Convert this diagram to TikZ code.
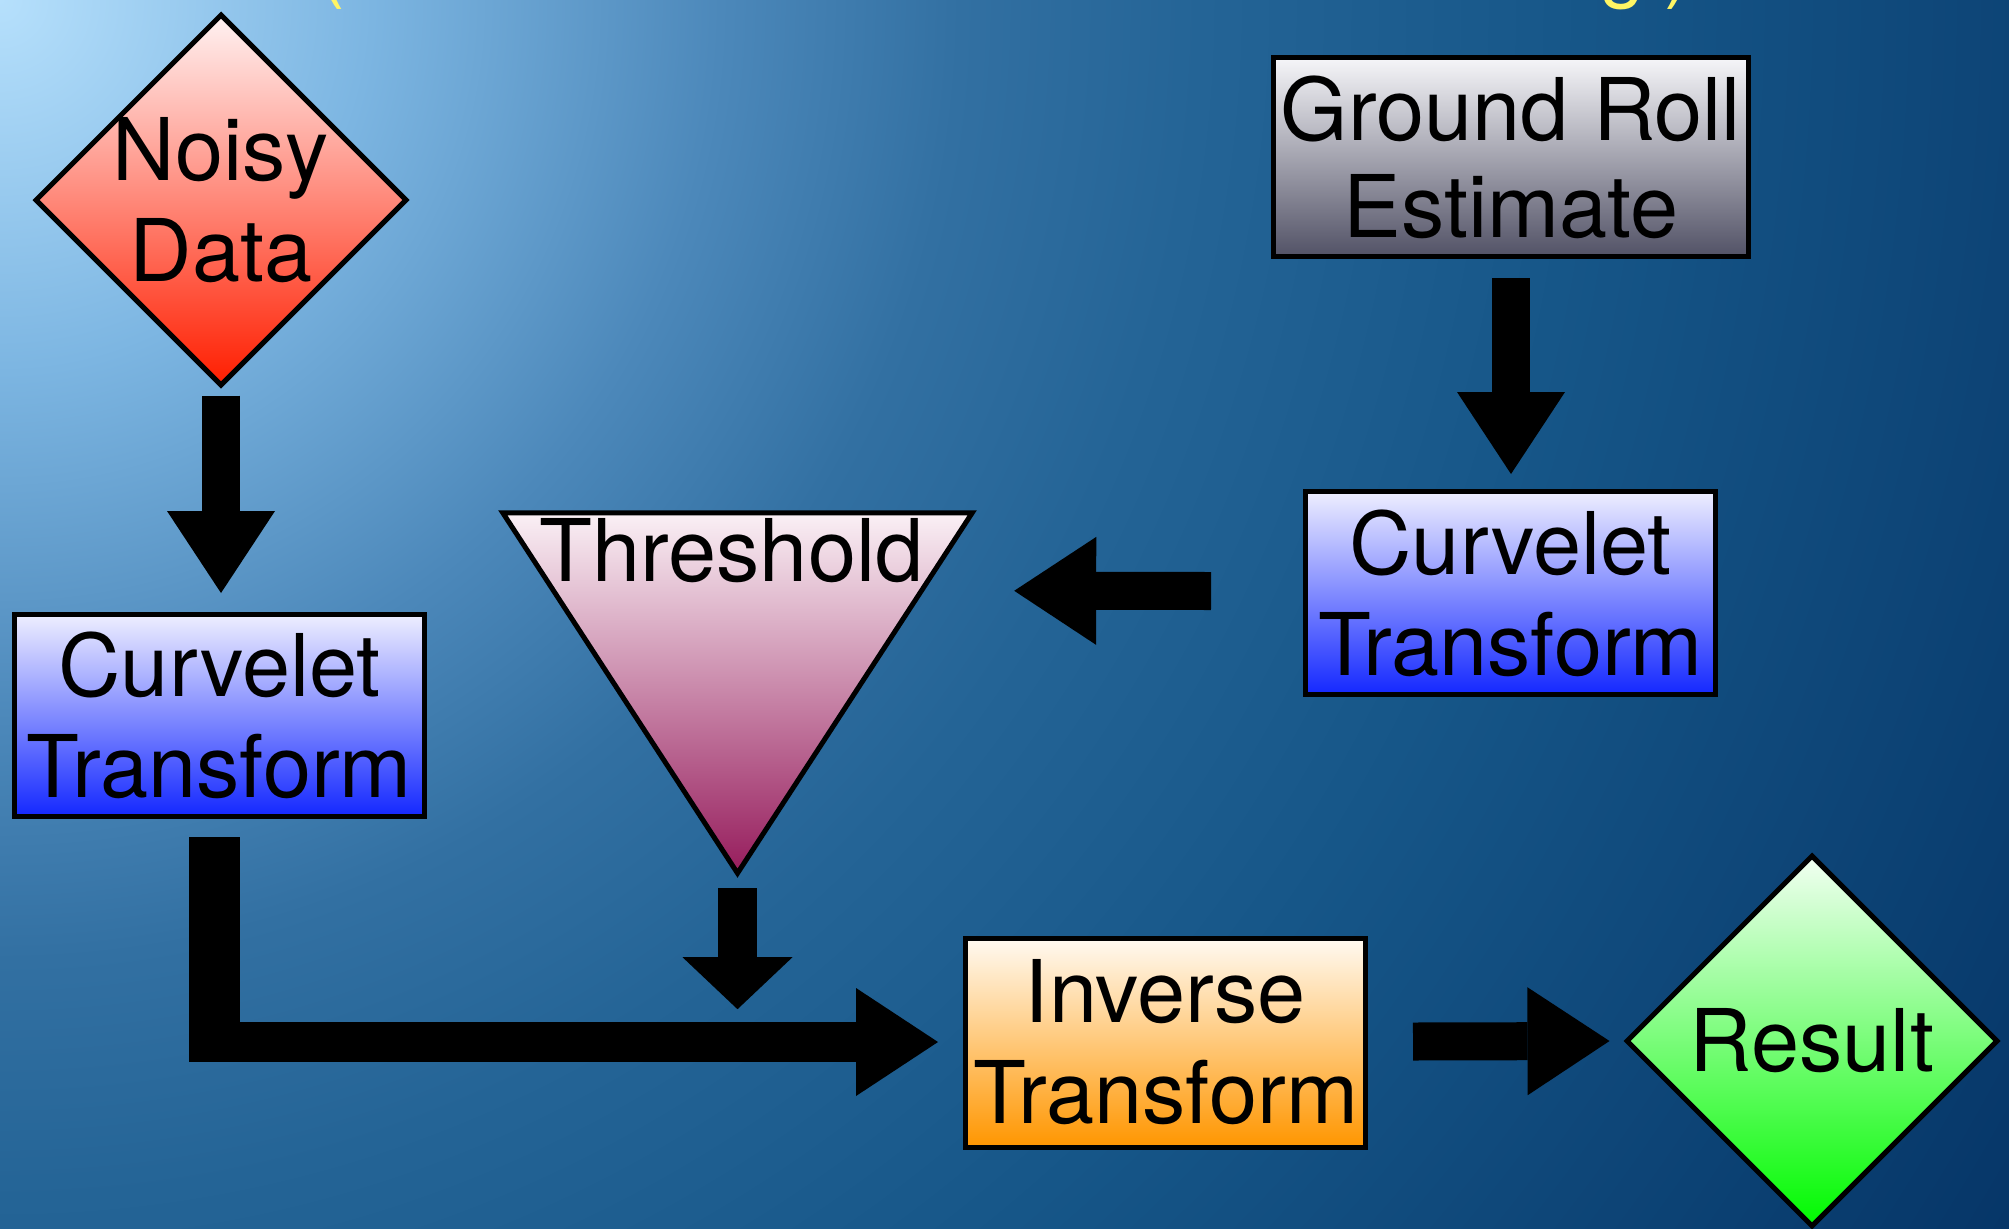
\documentclass[tikz,border=0pt]{standalone}
\usepackage{fontspec}
\setmainfont{TeX Gyre Heros}
\usetikzlibrary{shapes.geometric,arrows.meta,calc}

% backdrop colours
\definecolor{bgA}{RGB}{182,224,252}
\definecolor{bgB}{RGB}{125,182,226}
\definecolor{bgC}{RGB}{76,136,186}
\definecolor{bgD}{RGB}{50,112,162}
\definecolor{bgE}{RGB}{36,100,150}
\definecolor{bgF}{RGB}{22,86,136}
\definecolor{bgG}{RGB}{6,54,104}
% node fills
\definecolor{noisyTop}{RGB}{255,242,242}
\definecolor{noisyBot}{RGB}{255,30,0}
\definecolor{ctTop}{RGB}{238,238,255}
\definecolor{ctBot}{RGB}{20,40,255}
\definecolor{grTop}{RGB}{246,246,249}
\definecolor{grBot}{RGB}{82,82,102}
\definecolor{thrTop}{RGB}{250,240,245}
\definecolor{thrBot}{RGB}{150,28,92}
\definecolor{invTop}{RGB}{255,250,242}
\definecolor{invBot}{RGB}{255,150,0}
\definecolor{resTop}{RGB}{242,255,242}
\definecolor{resBot}{RGB}{0,250,0}
\definecolor{titleYellow}{RGB}{255,245,100}

% radial glow from the top-left corner (25bp spans the circle's radius)
\pgfdeclareradialshading{backdrop}{\pgfpoint{0bp}{0bp}}{%
  color(0bp)=(bgA); color(3.8bp)=(bgB); color(7.5bp)=(bgC);
  color(10bp)=(bgD); color(12.5bp)=(bgE); color(16.5bp)=(bgF);
  color(24.5bp)=(bgG); color(50bp)=(bgG)}

\tikzset{
  label font/.style={font=\fontsize{86.5}{101}\selectfont},
  boxnode/.style={rectangle, draw=black, line width=5pt, inner sep=0pt,
    align=center, label font},
  diamondnode/.style={diamond, draw=black, line width=5pt, inner sep=0pt,
    minimum width=372pt, minimum height=372pt},
  lbl/.style={align=center, inner sep=0pt, label font},
  blockarrow/.style={draw=black, line width=38pt,
    -{Triangle[length=82pt,width=108pt,line width=0pt]}},
  flatarrow/.style={draw=black, line width=39pt,
    -{Triangle[length=52pt,width=110pt,line width=0pt]}},
  titletext/.style={text=titleYellow, inner sep=0pt,
    font=\fontsize{80}{96}\selectfont},
}

\begin{document}
\begin{tikzpicture}[x=1pt,y=-1pt]
  \useasboundingbox (0,0) rectangle (2009,1228);

  % background and the title line running off the top edge
  \begin{scope}
    \clip (0,0) rectangle (2009,1228);
    \shade[shading=backdrop] (0,0) circle (2400);
    \node[titletext, anchor=base west] (titleL) at (318,-7) {(};
    \node[titletext, anchor=base west] (titleG) at (1600,-7) {g};
    \node[titletext, anchor=base west] (titleR) at (1664,-7) {)};
  \end{scope}

  % nodes
  \node[diamondnode, top color=noisyTop, bottom color=noisyBot] (noisy) at (221,200) {};
  \node[lbl] (noisyText) at (noisy.center) {Noisy\\Data};

  \node[boxnode, minimum width=410pt, minimum height=202pt,
        top color=ctTop, bottom color=ctBot] (ctL) at (219.5,715.5) {Curvelet\\Transform};

  \node[boxnode, minimum width=475pt, minimum height=199pt,
        top color=grTop, bottom color=grBot,
        font=\fontsize{86.5}{97}\selectfont] (gr) at (1511,157) {Ground Roll\\Estimate};

  \node[boxnode, minimum width=410pt, minimum height=203pt,
        top color=ctTop, bottom color=ctBot] (ctR) at (1510.5,593) {Curvelet\\Transform};

  \node[minimum width=469pt, minimum height=360pt, inner sep=0pt] (thr) at (737.5,693) {};
  \shade[top color=thrTop, bottom color=thrBot, draw=black, line width=5pt]
    (thr.north west) -- (thr.north east) -- (thr.south) -- cycle;
  \node[lbl, anchor=base] (thrText) at ($(thr.north)+(-6,69)$) {Threshold};

  \node[boxnode, minimum width=400pt, minimum height=209pt,
        top color=invTop, bottom color=invBot] (inv) at (1165.5,1042.5) {Inverse\\Transform};

  \node[diamondnode, top color=resTop, bottom color=resBot] (res) at (1812,1041) {};
  \node[lbl] (resText) at (res.center) {Result};

  % connectors
  \draw[blockarrow] ($(noisy.south)+(0,7)$) -- ($(noisy.south |- ctL.north)+(0,-19)$);
  \draw[blockarrow] ($(gr.south)+(0,19)$) -- ($(gr.south |- ctR.north)+(0,-15)$);
  \draw[blockarrow] ($(ctR.west)+(-92,-2)$) -- ($(thr.north east)+(42,78)$);

  \fill[black] ($(ctL.south)+(-30.5,18)$) rectangle ($(ctL.south)+(20.5,243)$);
  \draw[blockarrow, line width=40pt] ($(ctL.south)+(-30.5,223)$) -- ($(inv.west)+(-25,-0.5)$);

  \draw[flatarrow] ($(thr.south)+(0,15)$) -- ($(thr.south)+(0,136)$);

  \draw[blockarrow] ($(inv.east)+(45,-1)$) -- ($(res.west)+(-14,0)$);
\end{tikzpicture}
\end{document}
